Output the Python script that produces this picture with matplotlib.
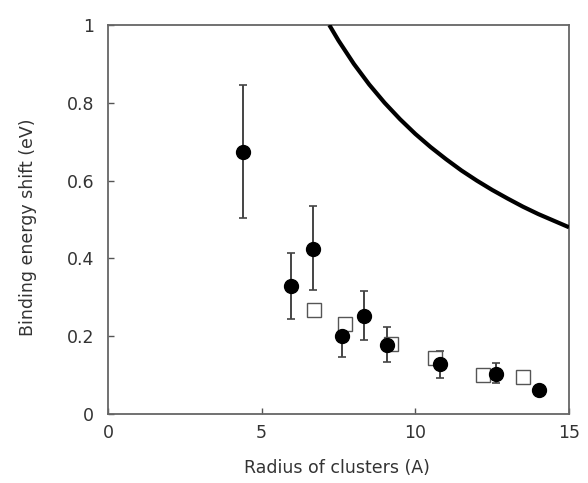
import matplotlib
matplotlib.use("Agg")
import matplotlib.pyplot as plt

# Filled circles with error bars
r_circ = [4.40, 5.95, 6.66, 7.61, 8.34, 9.07, 10.80, 12.62, 14.01]
e_circ = [0.674, 0.329, 0.425, 0.200, 0.252, 0.178, 0.128, 0.103, 0.062]
err_hi = [0.846, 0.413, 0.535, 0.247, 0.317, 0.223, 0.162, 0.130, 0.062]
err_lo = [0.505, 0.244, 0.319, 0.147, 0.190, 0.134, 0.093, 0.079, 0.062]

# Open squares
r_sq = [6.71, 7.71, 9.20, 10.64, 12.19, 13.49]
e_sq = [0.267, 0.231, 0.180, 0.143, 0.100, 0.096]

r_curve = [7.2, 7.5, 8.0, 8.5, 9.0, 9.5, 10.0, 10.5, 11.0, 11.5, 12.0, 12.5, 13.0, 13.5, 14.0, 14.5, 15.0]
e_curve = [1.0, 0.960, 0.900, 0.847, 0.800, 0.758, 0.720, 0.686, 0.655, 0.626, 0.600, 0.576, 0.554, 0.533, 0.514, 0.497, 0.480]

plt.rcParams['font.family'] = ['DejaVu Sans']

fig = plt.figure(figsize=(5.88, 4.83), dpi=100)
ax = fig.add_axes([0.1837, 0.1429, 0.7840, 0.8053])

ax.plot(r_curve, e_curve, color='black', lw=3.0, solid_capstyle='butt', zorder=3)

yerr = [[c - l for c, l in zip(e_circ, err_lo)], [h - c for c, h in zip(e_circ, err_hi)]]
ax.errorbar(r_circ, e_circ, yerr=yerr, fmt='none', ecolor='#444444', elinewidth=1.4,
            capsize=3, capthick=1.2, zorder=2)
ax.plot(r_sq, e_sq, 's', ms=9.5, mfc='white', mec='#555555', mew=1.0, zorder=2.5, linestyle='none')
ax.plot(r_circ, e_circ, 'o', ms=10, color='black', zorder=4, linestyle='none')

ax.set_xlim(0, 15)
ax.set_ylim(0, 1)
ax.set_xticks([0, 5, 10, 15])
ax.set_yticks([0, 0.2, 0.4, 0.6, 0.8, 1])
ax.set_yticklabels(['0', '0.2', '0.4', '0.6', '0.8', '1'])
ax.tick_params(direction='in', length=4, width=1, colors='#555555', labelcolor='#333333',
               labelsize=12.5)
ax.tick_params(axis='y', pad=10)
ax.tick_params(axis='x', pad=7)
for s in ax.spines.values():
    s.set_color('#666666')
    s.set_linewidth(1.3)

ax.set_xlabel('Radius of clusters (A)', fontsize=12.5, color='#333333')
ax.set_ylabel('Binding energy shift (eV)', fontsize=12.5, color='#333333')
ax.xaxis.set_label_coords(0.497, -0.115)
ax.yaxis.set_label_coords(-0.155, 0.48)

fig.savefig('out.png', dpi=100)
